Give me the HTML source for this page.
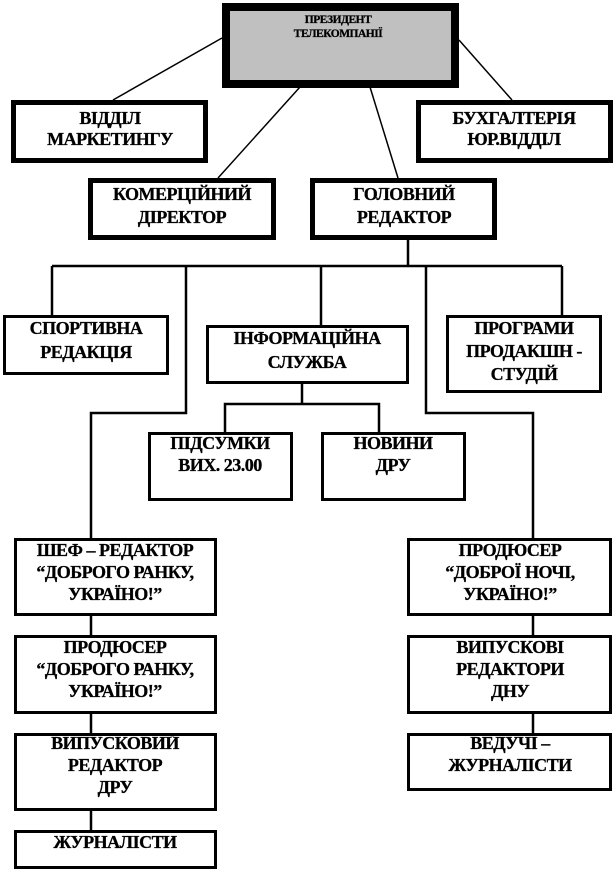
<!DOCTYPE html>
<html><head><meta charset="utf-8"><style>
html,body{margin:0;padding:0;background:#fff}
svg{display:block}
text{font-family:"Liberation Serif",serif;font-weight:bold;font-size:18px;text-anchor:middle;fill:#000;letter-spacing:-0.5px;stroke:#000;stroke-width:0.3px}
</style></head><body>
<svg width="614" height="872" viewBox="0 0 614 872" xmlns="http://www.w3.org/2000/svg">
<g stroke="#000" fill="none">
<line x1="222" y1="38" x2="113" y2="100" stroke-width="1.5"/>
<line x1="459" y1="40" x2="512" y2="100" stroke-width="1.5"/>
<line x1="300" y1="87" x2="218" y2="178" stroke-width="1.5"/>
<line x1="370" y1="87" x2="398" y2="178" stroke-width="1.5"/>
<g stroke-width="2.5">
<line x1="408" y1="240" x2="408" y2="266"/>
<line x1="52" y1="266" x2="562" y2="266"/>
<line x1="52" y1="266" x2="52" y2="315"/>
<line x1="321" y1="266" x2="321" y2="325"/>
<line x1="562" y1="266" x2="562" y2="315"/>
<polyline points="186,266 186,413 91,413 91,538"/>
<polyline points="426,266 426,413 533,413 533,538"/>
<line x1="302" y1="383" x2="302" y2="404"/>
<polyline points="225,432 225,404 379,404 379,432"/>
<line x1="91" y1="615" x2="91" y2="635"/>
<line x1="91" y1="713" x2="91" y2="733"/>
<line x1="91" y1="810" x2="91" y2="830"/>
<line x1="533" y1="615" x2="533" y2="635"/>
<line x1="533" y1="713" x2="533" y2="733"/>
</g>
<rect x="226" y="7" width="229" height="77" fill="#c0c0c0" stroke-width="8"/>
<rect x="13.5" y="102.5" width="192" height="58" fill="#fff" stroke-width="5"/>
<rect x="418.5" y="102.5" width="192" height="58" fill="#fff" stroke-width="5"/>
<rect x="90.5" y="180.5" width="183" height="57" fill="#fff" stroke-width="5"/>
<rect x="312.5" y="180.5" width="182" height="57" fill="#fff" stroke-width="5"/>
<g stroke-width="3" fill="#fff">
<rect x="4.5" y="316.5" width="163" height="57"/>
<rect x="207.5" y="326.5" width="200" height="56"/>
<rect x="447.5" y="316.5" width="153" height="75"/>
<rect x="149.5" y="433.5" width="142" height="66"/>
<rect x="322.5" y="433.5" width="142" height="66"/>
<rect x="15.5" y="539.5" width="200" height="75"/>
<rect x="15.5" y="636.5" width="200" height="76"/>
<rect x="15.5" y="734.5" width="200" height="75"/>
<rect x="15.5" y="831.5" width="200" height="36"/>
<rect x="408.5" y="539.5" width="202" height="75"/>
<rect x="408.5" y="636.5" width="202" height="76"/>
<rect x="408.5" y="734.5" width="202" height="55"/>
</g>
</g>
<text x="338" y="23" style="font-size:11.5px">ПРЕЗИДЕНТ</text>
<text x="338" y="37" style="font-size:11.5px">ТЕЛЕКОМПАНІЇ</text>
<text x="110" y="124">ВІДДІЛ</text>
<text x="110" y="145">МАРКЕТИНГУ</text>
<text x="514" y="124">БУХГАЛТЕРІЯ</text>
<text x="514" y="145">ЮР.ВІДДІЛ</text>
<text x="182" y="200">КОМЕРЦІЙНИЙ</text>
<text x="182" y="223">ДІРЕКТОР</text>
<text x="404" y="200">ГОЛОВНИЙ</text>
<text x="404" y="223">РЕДАКТОР</text>
<text x="86" y="334">СПОРТИВНА</text>
<text x="86" y="358">РЕДАКЦІЯ</text>
<text x="307" y="344">ІНФОРМАЦІЙНА</text>
<text x="307" y="368">СЛУЖБА</text>
<text x="524" y="334">ПРОГРАМИ</text>
<text x="524" y="357">ПРОДАКШН -</text>
<text x="524" y="380">СТУДІЙ</text>
<text x="220" y="449">ПІДСУМКИ</text>
<text x="220" y="471">ВИХ. 23.00</text>
<text x="393" y="449">НОВИНИ</text>
<text x="393" y="471">ДРУ</text>
<text x="115" y="556">ШЕФ – РЕДАКТОР</text>
<text x="115" y="578">“ДОБРОГО РАНКУ,</text>
<text x="115" y="600">УКРАЇНО!”</text>
<text x="510" y="556">ПРОДЮСЕР</text>
<text x="510" y="578">“ДОБРОЇ НОЧІ,</text>
<text x="510" y="600">УКРАЇНО!”</text>
<text x="115" y="653">ПРОДЮСЕР</text>
<text x="115" y="675">“ДОБРОГО РАНКУ,</text>
<text x="115" y="697">УКРАЇНО!”</text>
<text x="510" y="653">ВИПУСКОВІ</text>
<text x="510" y="675">РЕДАКТОРИ</text>
<text x="510" y="697">ДНУ</text>
<text x="115" y="749">ВИПУСКОВИЙ</text>
<text x="115" y="771">РЕДАКТОР</text>
<text x="115" y="793">ДРУ</text>
<text x="510" y="749">ВЕДУЧІ –</text>
<text x="510" y="771">ЖУРНАЛІСТИ</text>
<text x="115" y="848">ЖУРНАЛІСТИ</text>
</svg>
</body></html>
